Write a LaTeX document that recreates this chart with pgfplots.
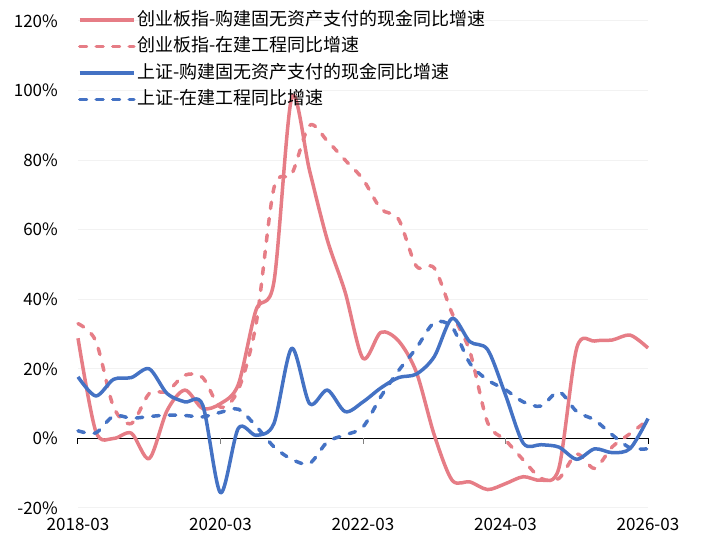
\documentclass[border=0pt]{standalone}
\usepackage{pgfplots}
\pgfplotsset{compat=1.18}
\usepackage{pgfplotstable}
\usepackage{fontspec}
\setmainfont{Noto Sans CJK SC}
\definecolor{cred}{RGB}{230,125,134}
\definecolor{cblue}{RGB}{68,114,196}
\definecolor{cgrid}{RGB}{242,242,242}
\pgfplotstableread{
t RS RD BS BD
0 28.8 33 17.7 2.2
1 2 28 12.2 1.6
2 0 9 17 6.5
3 1.5 4.3 17.5 5.8
4 -5.8 12.9 20 6.3
5 8 13.5 12.9 6.7
6 13.9 18.2 10.5 6.6
7 8.6 17.5 9.6 6.2
8 10 9 -15.6 7.5
9 15.5 14 2.9 8.4
10 37 33 0.9 3.5
11 45 72 4.3 -2.4
12 98 76 25.9 -6
13 77 90 10 -7.2
14 57 85.5 13.9 -1
15 42 80 7.7 1
16 23 74.5 10.5 3.3
17 30.5 66 14.5 12
18 28 63 17.5 19.5
19 19 49.5 18.5 26
20 1 49 23.5 33.3
21 -12 36 34.5 32
22 -12.5 25 27.8 21.6
23 -14.7 4.5 25.5 16.8
24 -13 -0.5 12.5 14
25 -11 -6.2 -1.4 10.5
26 -12 -11.5 -1.8 9.3
27 -8.5 -11.5 -2.5 13.4
28 26 -4.5 -6 7.7
29 28 -8.6 -3 5.3
30 28.3 -2.4 -4.1 1
31 29.7 1.4 -2.9 -2.7
32 26 5.3 5.7 -3
}\data
\begin{document}
\begin{tikzpicture}
\useasboundingbox (-78bp,-33bp) rectangle (623bp,508bp);
\begin{axis}[
  at={(0,0)}, anchor=south west,
  scale only axis, width=570bp, height=487bp,
  xmin=0, xmax=32, ymin=-20, ymax=120,
  axis line style={draw=none},
  major tick length=0pt,
  ymajorgrids, grid style={cgrid, line width=1bp},
  xtick={0,8,16,24,32},
  xticklabels={2018-03,2020-03,2022-03,2024-03,2026-03},
  ytick={-20,0,20,40,60,80,100,120},
  yticklabels={-20\%,0\%,20\%,40\%,60\%,80\%,100\%,120\%},
  tick label style={font=\fontsize{17bp}{20bp}\selectfont, text=black},
  yticklabel style={anchor=east, inner sep=0pt, xshift=-20bp},
  xticklabel style={anchor=north, inner sep=0pt, yshift=-10bp},
  legend style={at={(rel axis cs:0,1)}, anchor=north west, draw=none, fill=none,
    font=\fontsize{18bp}{20bp}\selectfont, row sep=4.5bp, inner sep=0pt, yshift=12bp, xshift=0bp,
    nodes={inner sep=2bp, text height=14bp, text depth=4bp}},
  legend cell align=left,
  legend image code/.code={\draw[#1] (0bp,0bp) -- (50bp,0bp); \path (0bp,0bp) -- (54bp,0bp);},
  every axis plot/.append style={line width=3.5bp, smooth, line join=round},
  clip=false,
]
\draw[black, line width=1bp] (axis cs:0,0) -- (axis cs:32,0);
\draw[black, line width=1bp] (axis cs:0,0) -- (axis cs:0,-1.6);
\draw[gray, line width=1bp] (axis cs:8,0) -- (axis cs:8,-1.6);
\draw[gray, line width=1bp] (axis cs:16,0) -- (axis cs:16,-1.6);
\draw[gray, line width=1bp] (axis cs:24,0) -- (axis cs:24,-1.6);
\draw[black, line width=1bp] (axis cs:32,0) -- (axis cs:32,-1.6);
\addplot[cred] table[x=t,y=RS]{\data};
\addlegendentry{创业板指-购建固无资产支付的现金同比增速}
\addplot[cred, dash pattern=on 6.5bp off 10bp, line cap=round] table[x=t,y=RD]{\data};
\addlegendentry{创业板指-在建工程同比增速}
\addplot[cblue] table[x=t,y=BS]{\data};
\addlegendentry{上证-购建固无资产支付的现金同比增速}
\addplot[cblue, dash pattern=on 6.5bp off 10bp, line cap=round] table[x=t,y=BD]{\data};
\addlegendentry{上证-在建工程同比增速}
\end{axis}
\end{tikzpicture}
\end{document}
